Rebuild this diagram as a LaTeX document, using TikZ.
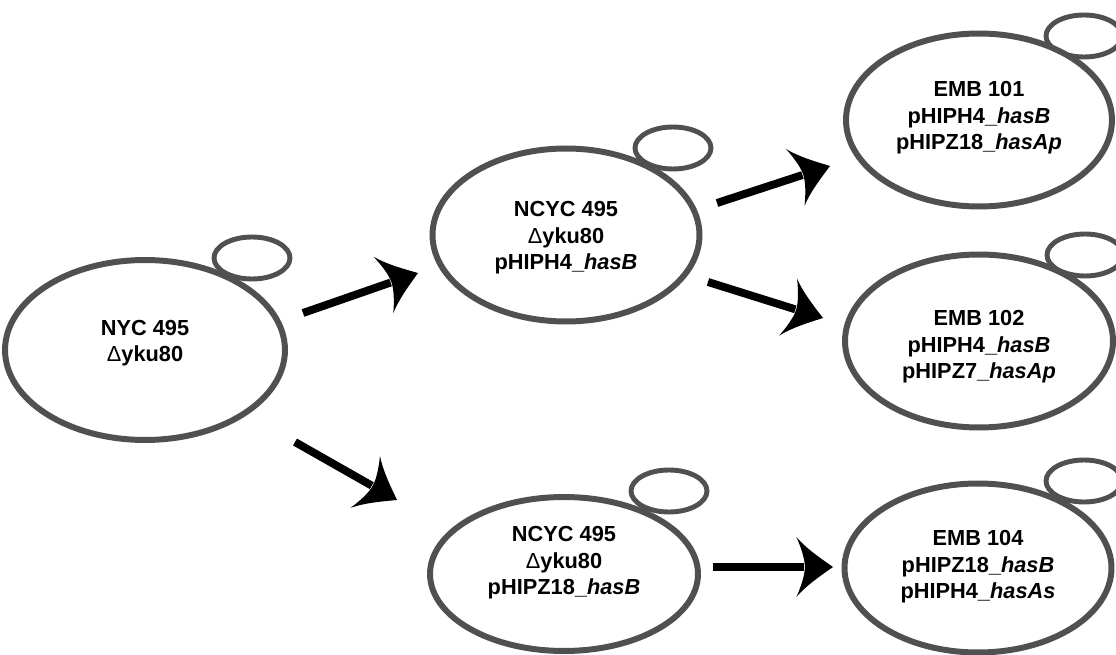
\documentclass[tikz,border=0pt]{standalone}
\usepackage{fontspec}
\setmainfont{Liberation Sans}
\usetikzlibrary{shapes.geometric,arrows.meta}
\definecolor{cellgray}{HTML}{505050}
\pgfdeclarearrow{
  name=Cave,
  setup code={%
    \pgfarrowssettipend{0pt}%
    \pgfarrowssetlineend{-16.5pt}%
    \pgfarrowssetvisualbackend{-16pt}%
    \pgfarrowssetbackend{-20.8pt}%
    \pgfarrowshullpoint{0pt}{0pt}%
    \pgfarrowsupperhullpoint{-20.8pt}{17pt}%
  },
  drawing code={%
    \pgfpathmoveto{\pgfqpoint{0pt}{0pt}}%
    \pgfpathcurveto{\pgfqpoint{-8pt}{5.6pt}}{\pgfqpoint{-15.5pt}{10.8pt}}{\pgfqpoint{-20.8pt}{17pt}}%
    \pgfpathcurveto{\pgfqpoint{-18.6pt}{12pt}}{\pgfqpoint{-16pt}{5pt}}{\pgfqpoint{-16pt}{0pt}}%
    \pgfpathcurveto{\pgfqpoint{-16pt}{-5pt}}{\pgfqpoint{-18.6pt}{-12pt}}{\pgfqpoint{-20.8pt}{-17pt}}%
    \pgfpathcurveto{\pgfqpoint{-15.5pt}{-10.8pt}}{\pgfqpoint{-8pt}{-5.6pt}}{\pgfqpoint{0pt}{0pt}}%
    \pgfpathclose
    \pgfusepathqfill
  }
}
\begin{document}
\begin{tikzpicture}[x=0.02cm,y=-0.02cm,
  cell/.style={draw=cellgray,line width=3.4pt,ellipse,inner sep=0pt},
  bud/.style={draw=cellgray,line width=2.8pt,ellipse,inner sep=0pt,minimum width=1.52cm,minimum height=0.84cm},
  lbl/.style={align=center,font=\fontsize{12.4}{15}\selectfont\bfseries,inner sep=0pt},
  growth/.style={line width=4.5pt,-Cave}]
\useasboundingbox (0,0) rectangle (1116,655);
% buds (drawn first, behind the cells)
\node[bud] (b1) at (252,258) {};
\node[bud] (b2) at (673,148) {};
\node[bud] (b3) at (669,491) {};
\node[bud] (b4) at (1084,36) {};
\node[bud] (b5) at (1085,255) {};
\node[bud] (b6) at (1084,481) {};
% cells
\node[cell,fill=white,minimum width=5.6cm,minimum height=3.6cm] (c1) at (145,350) {};
\node[cell,fill=white,minimum width=5.34cm,minimum height=3.46cm] (c2) at (566,235) {};
\node[cell,fill=white,minimum width=5.36cm,minimum height=3.08cm] (c3) at (564,574) {};
\node[cell,fill=white,minimum width=5.32cm,minimum height=3.46cm] (c4) at (979,120) {};
\node[cell,fill=white,minimum width=5.36cm,minimum height=3.46cm] (c5) at (979,341) {};
\node[cell,fill=white,minimum width=5.34cm,minimum height=3.38cm] (c6) at (978,568) {};
% labels
\node[lbl] (t1) at (145,343) {NYC 495\\{\mdseries Δ}yku80};
\node[lbl] (t2) at (566,238) {NCYC 495\\{\mdseries Δ}yku80\\pHIPH4\_\textit{hasB}};
\node[lbl] (t3) at (564,563) {NCYC 495\\{\mdseries Δ}yku80\\pHIPZ18\_\textit{hasB}};
\node[lbl] (t4) at (979,118) {EMB 101\\pHIPH4\_\textit{hasB}\\pHIPZ18\_\textit{hasAp}};
\node[lbl] (t5) at (979,347) {EMB 102\\pHIPH4\_\textit{hasB}\\pHIPZ7\_\textit{hasAp}};
\node[lbl] (t6) at (978,567) {EMB 104\\pHIPZ18\_\textit{hasB}\\pHIPH4\_\textit{hasAs}};
% arrow ends
\coordinate (a1s) at (303,313); \coordinate (a1e) at (418,273);
\coordinate (a2s) at (295,442); \coordinate (a2e) at (397,500);
\coordinate (a3s) at (717,203); \coordinate (a3e) at (830,166);
\coordinate (a4s) at (708,282); \coordinate (a4e) at (823,318);
\coordinate (a5s) at (713,567); \coordinate (a5e) at (833,567);
\draw[growth] (a1s) -- (a1e);
\draw[growth] (a2s) -- (a2e);
\draw[growth] (a3s) -- (a3e);
\draw[growth] (a4s) -- (a4e);
\draw[growth] (a5s) -- (a5e);
\end{tikzpicture}
\end{document}
